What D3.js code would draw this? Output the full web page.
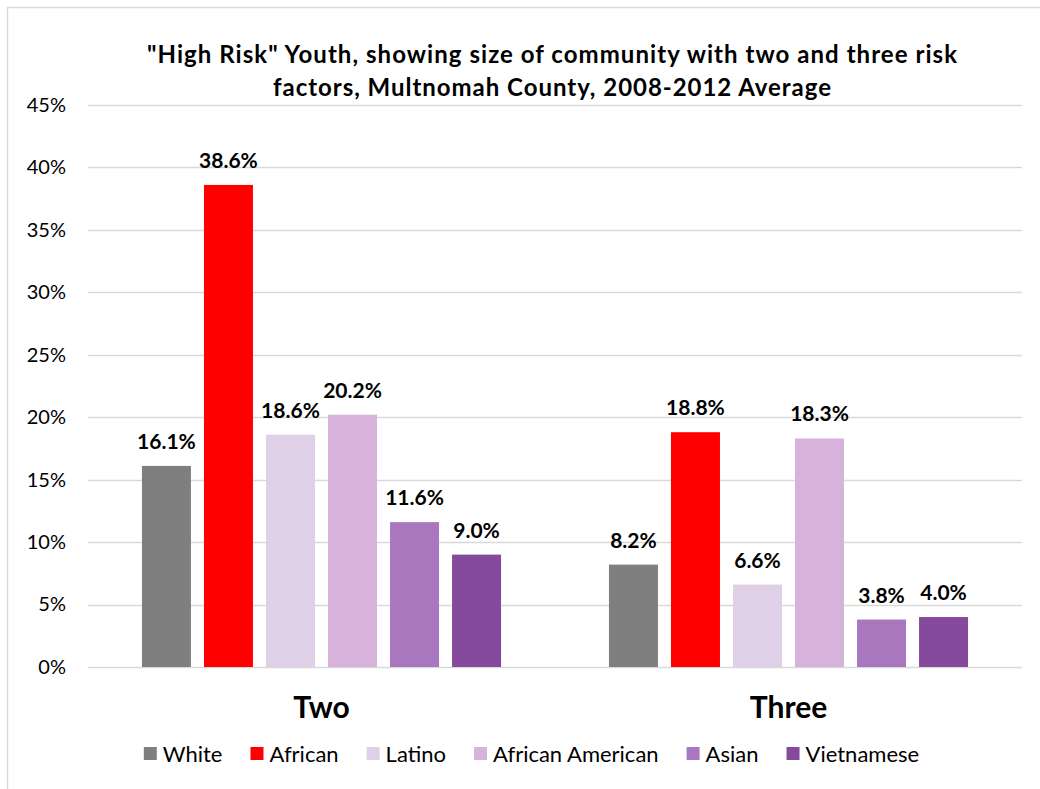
<!DOCTYPE html>
<html>
<head>
<meta charset="utf-8">
<script src="https://cdn.jsdelivr.net/npm/d3@7"></script>
<style>
  html, body { margin: 0; padding: 0; background: #fff; }
  svg text { font-family: Lato, "Open Sans", sans-serif; }
</style>
</head>
<body>
<svg id="chart" width="1040" height="789"></svg>
<script>
const categories = ["Two", "Three"];
const seriesNames = ["White", "African", "Latino", "African American", "Asian", "Vietnamese"];
const valuesTwo = [16.1, 38.6, 18.6, 20.2, 11.6, 9.0];
const valuesThree = [8.2, 18.8, 6.6, 18.3, 3.8, 4.0];
const seriesColors = ["#7f7f7f", "#ff0000", "#dfd0e8", "#d7b3dc", "#a977be", "#854a9c"];
const yTicks = [0, 5, 10, 15, 20, 25, 30, 35, 40, 45];
const titleLines = ["\"High Risk\" Youth, showing size of community with two and three risk",
                    "factors, Multnomah County, 2008-2012 Average"];

const valuesByCategory = { "Two": valuesTwo, "Three": valuesThree };

const svg = d3.select("#chart");
const W = 1040, H = 789;
const plot = { left: 88, right: 1022, top: 105, bottom: 667 };

// frame
svg.append("rect").attr("x", 7.5).attr("y", 7.5).attr("width", W).attr("height", H)
  .attr("fill", "#fff").attr("stroke", "#d9d9d9").attr("stroke-width", 1.5);

const x0 = d3.scaleBand().domain(categories).range([plot.left, plot.right]).padding(0);
const x1 = d3.scaleBand().domain(seriesNames).range([0, x0.bandwidth()])
  .paddingInner(0.21).paddingOuter(0.87);
const y = d3.scaleLinear().domain([0, 45]).range([plot.bottom, plot.top]);

// gridlines
svg.append("g").selectAll("line").data(yTicks).join("line")
  .attr("x1", plot.left).attr("x2", plot.right)
  .attr("y1", d => Math.round(y(d)) + 0.5).attr("y2", d => Math.round(y(d)) + 0.5)
  .attr("stroke", "#d9d9d9").attr("stroke-width", 1.5);

// y axis labels
const yAxis = d3.axisLeft(y).tickValues(yTicks).tickFormat(d => d + "%").tickSize(0).tickPadding(0);
const yg = svg.append("g").attr("transform", `translate(66,0)`).call(yAxis);
yg.select(".domain").remove();
yg.selectAll("text").attr("font-size", 20).attr("fill", "#000")
  .style("font-family", "Lato, 'Open Sans', sans-serif");

// bars
const groups = svg.append("g").selectAll("g").data(categories).join("g")
  .attr("transform", d => `translate(${x0(d)},0)`);

groups.selectAll("rect").data(c => valuesByCategory[c].map((v, i) => ({ name: seriesNames[i], v, i })))
  .join("rect")
  .attr("x", d => x1(d.name))
  .attr("width", x1.bandwidth())
  .attr("y", d => y(d.v))
  .attr("height", d => y(0) - y(d.v))
  .attr("fill", d => seriesColors[d.i]);

groups.selectAll("text.lbl").data(c => valuesByCategory[c].map((v, i) => ({ name: seriesNames[i], v, i })))
  .join("text").attr("class", "lbl")
  .attr("x", d => x1(d.name) + x1.bandwidth() / 2)
  .attr("y", d => y(d.v) - 17)
  .attr("text-anchor", "middle")
  .attr("font-size", 21).attr("font-weight", "bold").attr("fill", "#000")
  .text(d => d.v.toFixed(1) + "%");

// category labels
const xAxis = d3.axisBottom(x0).tickSize(0).tickPadding(0);
const xg = svg.append("g").attr("transform", `translate(0,${plot.bottom})`).call(xAxis);
xg.select(".domain").remove();
xg.selectAll("text").attr("dy", 0).attr("y", 51)
  .attr("font-size", 30).attr("font-weight", "bold").attr("fill", "#000")
  .style("font-family", "Lato, 'Open Sans', sans-serif");

// title
const titleWidths = [810, 558];
svg.append("text").attr("text-anchor", "middle").attr("font-size", 24).attr("font-weight", "bold")
  .selectAll("tspan").data(titleLines).join("tspan")
  .attr("x", 552).attr("y", (d, i) => 63 + i * 33)
  .attr("textLength", (d, i) => titleWidths[i]).attr("lengthAdjust", "spacing")
  .text(d => d);

// legend
const legend = svg.append("g");
const items = legend.selectAll("g").data(seriesNames).join("g");
items.append("rect").attr("width", 13).attr("height", 13).attr("y", -7)
  .attr("fill", (d, i) => seriesColors[i]);
items.append("text").attr("x", 19).attr("y", 0).attr("dy", "0.35em")
  .attr("font-size", 22).attr("fill", "#000").text(d => d);
let lx = 0;
items.each(function () {
  const w = this.getBBox().width;
  d3.select(this).attr("data-x", lx);
  lx += w + 28;
});
const totalW = lx - 28;
const startX = 144 + (775 - totalW) / 2;
items.attr("transform", function () {
  return `translate(${startX + (+this.getAttribute("data-x"))},754)`;
});
</script>
</body>
</html>
